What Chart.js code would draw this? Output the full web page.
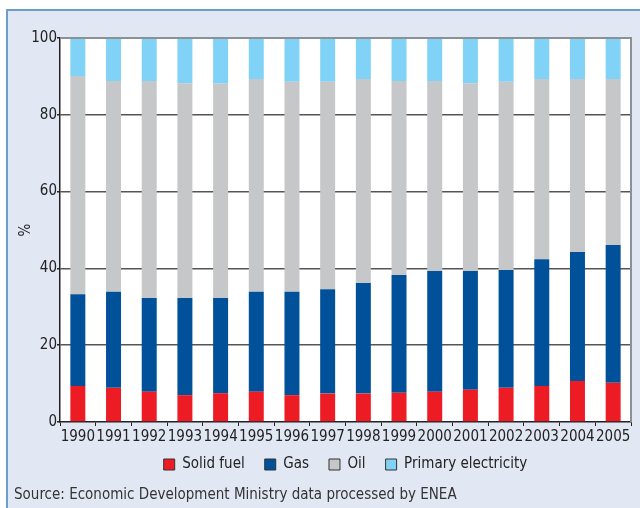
<!DOCTYPE html>
<html>
<head>
<meta charset="utf-8">
<script src="https://cdn.jsdelivr.net/npm/chart.js@4.4.1/dist/chart.umd.min.js"></script>
<style>
  html, body { margin: 0; padding: 0; background: #fff; }
  #wrap { position: relative; width: 640px; height: 508px; overflow: hidden; }
  #panel { position: absolute; left: 6px; top: 9px; right: 0; bottom: 0; background: #e1e7f3;
           border-left: 2px solid #6c9dcf; border-top: 2px solid #6c9dcf; }
  canvas { position: absolute; left: 0; top: 0; }
</style>
</head>
<body>
<div id="wrap">
  <div id="panel"></div>
  <canvas id="chart" width="640" height="508"></canvas>
</div>
<script>
// share of primary energy sources, % of total
const years = ['1990', '1991', '1992', '1993', '1994', '1995', '1996', '1997',
               '1998', '1999', '2000', '2001', '2002', '2003', '2004', '2005'];
const solidFuel   = [9.4, 8.9, 7.9, 7.0, 7.5, 7.9, 7.0, 7.4, 7.4, 7.6, 7.9, 8.4, 8.9, 9.4, 10.7, 10.2];
const gas         = [23.9, 25.0, 24.4, 25.3, 24.8, 26.0, 26.9, 27.2, 28.8, 30.7, 31.4, 30.9, 30.7, 33.0, 33.6, 35.9];
const oil         = [56.8, 54.9, 56.5, 55.9, 55.8, 55.4, 54.7, 54.0, 53.1, 50.5, 49.5, 48.9, 49.0, 46.9, 45.0, 43.2];
const electricity = [9.9, 11.2, 11.2, 11.8, 11.9, 10.7, 11.4, 11.4, 10.7, 11.2, 11.2, 11.8, 11.4, 10.7, 10.7, 10.7];
const yTicks = [0, 20, 40, 60, 80, 100];

const FONT = '"Liberation Sans Narrow", "Arial Narrow", "DejaVu Sans Condensed", sans-serif';
Chart.defaults.font.family = FONT;
Chart.defaults.font.size = 15;
Chart.defaults.color = '#222';

// white plot background, grey frame on top and right
const plotFrame = {
  id: 'plotFrame',
  beforeDraw(chart) {
    const { ctx, chartArea: a } = chart;
    ctx.save();
    ctx.fillStyle = '#fff';
    ctx.fillRect(a.left, a.top, a.right - a.left, a.bottom - a.top);
    ctx.restore();
  },
  afterDatasetsDraw(chart) {
    const { ctx, chartArea: a } = chart;
    ctx.save();
    ctx.strokeStyle = '#8c9196';
    ctx.lineWidth = 2;
    ctx.beginPath();
    ctx.moveTo(a.left, a.top);
    ctx.lineTo(a.right, a.top);
    ctx.lineTo(a.right, a.bottom);
    ctx.stroke();
    ctx.restore();
  },
  // legend sits centred under the plot, a little below the year labels
  afterLayout(chart) {
    const lg = chart.legend, a = chart.chartArea;
    if (!lg) return;
    const dx = (a.left + a.right) / 2 - (lg.left + lg.right) / 2;
    lg.left += dx;
    lg.right += dx;
    lg.top -= 9;
    lg.bottom -= 9;
  }
};

new Chart(document.getElementById('chart'), {
  type: 'bar',
  data: {
    labels: years,
    datasets: [
      { label: 'Solid fuel', data: solidFuel, backgroundColor: '#ed1c24' },
      { label: 'Gas', data: gas, backgroundColor: '#00519a' },
      { label: 'Oil', data: oil, backgroundColor: '#c6c7c9' },
      { label: 'Primary electricity', data: electricity, backgroundColor: '#80d3f6' }
    ]
  },
  options: {
    responsive: false,
    animation: false,
    barPercentage: 0.42,
    categoryPercentage: 1,
    layout: { padding: { left: 14, right: 9, top: 38, bottom: 0 } },
    plugins: {
      tooltip: { enabled: false },
      legend: {
        position: 'bottom',
        maxHeight: 35,
        labels: {
          boxWidth: 11,
          boxHeight: 11,
          padding: 20,
          color: '#222',
          generateLabels(chart) {
            const items = Chart.defaults.plugins.legend.labels.generateLabels(chart);
            items.forEach(it => { it.strokeStyle = '#333'; it.lineWidth = 1; });
            return items;
          }
        }
      },
      title: {
        display: true,
        position: 'bottom',
        align: 'start',
        text: 'Source: Economic Development Ministry data processed by ENEA',
        color: '#333',
        font: { size: 15, weight: 'normal' },
        padding: { top: 5, bottom: 4 }
      }
    },
    scales: {
      x: {
        stacked: true,
        grid: { display: true, offset: true, drawOnChartArea: false, tickLength: 4, tickColor: '#222' },
        border: { display: true, color: '#222', width: 1.5 },
        ticks: { padding: 2, color: '#222', maxRotation: 0, autoSkip: false },
        afterFit(scale) { scale.height = 24; }
      },
      y: {
        stacked: true,
        min: 0,
        max: 100,
        afterBuildTicks(scale) { scale.ticks = yTicks.map(v => ({ value: v })); },
        grid: {
          color: c => (c.tick && (c.tick.value === 0 || c.tick.value === 100)) ? 'rgba(0,0,0,0)' : '#555',
          lineWidth: 1.5,
          tickLength: 3,
          tickColor: '#222'
        },
        border: { display: true, color: '#222', width: 1.5 },
        ticks: { padding: 0, color: '#222' },
        title: { display: true, text: '%', color: '#222', padding: { top: 3, bottom: 0 } },
        afterFit(scale) { scale.width = 46; }
      }
    }
  },
  plugins: [plotFrame]
});
</script>
</body>
</html>
